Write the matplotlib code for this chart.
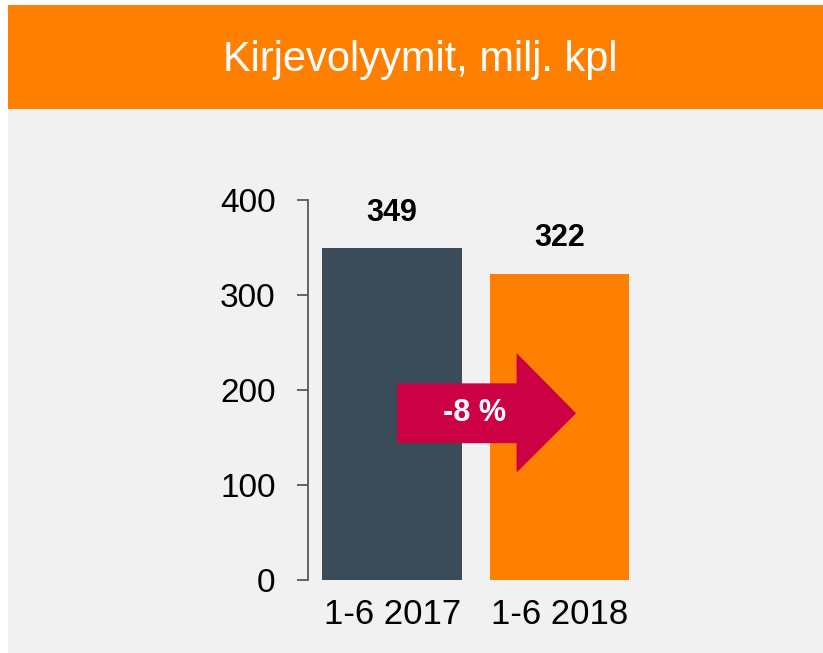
import matplotlib
matplotlib.use("Agg")
import matplotlib.pyplot as plt
from matplotlib.patches import Rectangle, Polygon

plt.rcParams['font.family'] = ['Liberation Sans', 'DejaVu Sans']

# Data
categories = ["1-6 2017", "1-6 2018"]
values = [349, 322]
bar_colors = ["#3a4b59", "#ff8000"]
yticks = [0, 100, 200, 300, 400]
title = "Kirjevolyymit, milj. kpl"
change_pct = round((values[1] - values[0]) / values[0] * 100)

W, H = 823, 653
fig = plt.figure(figsize=(W / 100, H / 100), dpi=100)
fig.patch.set_facecolor("white")

def fx(px):
    return px / W

def fy(py):
    return 1 - py / H

# Background axes with panels
bg = fig.add_axes([0, 0, 1, 1], zorder=0)
bg.set_xlim(0, W)
bg.set_ylim(H, 0)
bg.axis("off")
bg.add_patch(Rectangle((8, 108), W - 8, H - 106, facecolor="#f1f1f1", edgecolor="none"))
bg.add_patch(Rectangle((8, 5), W - 8, 104, facecolor="#ff8000", edgecolor="none"))
bg.text(420, 60, title, color="white", fontsize=30, ha="center", va="center")

# Axes
left, right, top, bottom = 307.5, 644, 200, 580
ax = fig.add_axes([fx(left), fy(bottom), fx(right) - fx(left), fy(top) - fy(bottom)], zorder=1)
ax.set_facecolor("none")

x = list(range(len(categories)))
bars = ax.bar(x, values, width=0.833, color=bar_colors, zorder=2)
ax.set_xlim(-0.506, 1.506)
ax.set_ylim(0, 400)
ax.set_yticks(yticks)
ax.set_xticks(x)
ax.set_xticklabels(categories)

for s in ["top", "right", "bottom"]:
    ax.spines[s].set_visible(False)
ax.spines["left"].set_color("#595959")
ax.spines["left"].set_linewidth(1.3)
ax.tick_params(axis="y", length=8, width=1.3, color="#595959", labelsize=24, pad=15, labelcolor="black")
ax.tick_params(axis="x", length=0, labelsize=25, pad=13, labelcolor="black")

for xi, v in zip(x, values):
    ax.annotate(f"{v}", (xi, v), xytext=(0, 15), textcoords="offset points",
                ha="center", va="bottom", fontsize=22, fontweight="bold", color="black")

# Change arrow
x0, x_head, x_tip = 0.03, 0.744, 1.10
y_s0, y_s1, y_h0, y_h1 = 144, 207, 113, 239
y_mid = (y_s0 + y_s1) / 2
arrow = Polygon([(x0, y_s0), (x_head, y_s0), (x_head, y_h0), (x_tip, y_mid),
                 (x_head, y_h1), (x_head, y_s1), (x0, y_s1)], closed=True,
                facecolor="#cc0044", edgecolor="none", zorder=3)
ax.add_patch(arrow)
ax.text(0.49, y_mid, f"{change_pct} %", color="white", fontsize=22, fontweight="bold",
        ha="center", va="center", zorder=4)

fig.savefig("out.png", dpi=100, facecolor=fig.get_facecolor())
